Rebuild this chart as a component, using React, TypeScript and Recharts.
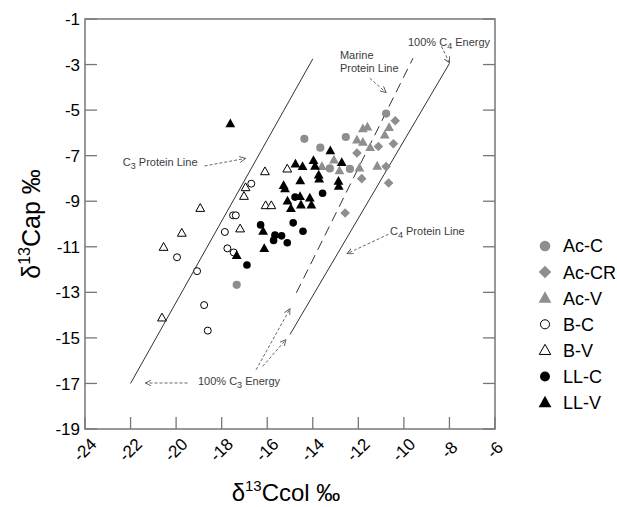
import React from 'react';
import {
  ScatterChart,
  Scatter,
  XAxis,
  YAxis,
  ReferenceLine,
  ReferenceDot,
  ReferenceArea,
  Legend,
} from 'recharts';

const FONT = "'Liberation Sans', Arial, Helvetica, sans-serif";
const GRAY = '#8e8e8e';
const FRAME = '#777777';
const NOTE = '#3c3c3c';

const xTicks = [-24, -22, -20, -18, -16, -14, -12, -10, -8, -6];
const yTicks = [-19, -17, -15, -13, -11, -9, -7, -5, -3, -1];

type P = { x: number; y: number };
const pts = (a: number[][]): P[] => a.map(([x, y]) => ({ x, y }));

const acC = pts([
  [-14.37, -6.26], [-13.67, -6.65], [-12.55, -6.18], [-10.78, -5.15],
  [-13.25, -7.56], [-12.37, -7.58], [-17.34, -12.67],
]);
const acCR = pts([
  [-10.38, -5.47], [-10.46, -6.48], [-11.12, -6.6], [-12.06, -6.88],
  [-11.85, -8.01], [-10.67, -8.2], [-12.58, -9.52], [-10.78, -7.48],
]);
const acV = pts([
  [-11.8, -5.82], [-11.6, -5.74], [-10.65, -5.76], [-10.84, -6.09],
  [-12.06, -6.31], [-11.8, -6.41], [-11.48, -6.64], [-13.07, -7.19],
  [-12.83, -7.66], [-11.95, -7.54], [-11.17, -7.46], [-13.6, -7.48],
]);
const bC = pts([
  [-16.7, -8.23], [-17.5, -9.62], [-17.38, -9.62], [-17.86, -10.35],
  [-17.75, -11.07], [-17.47, -11.25], [-19.96, -11.46], [-19.08, -12.07],
  [-18.77, -13.56], [-18.61, -14.68],
]);
const bV = pts([
  [-16.1, -7.7], [-15.12, -7.58], [-16.95, -8.4], [-17.02, -8.78],
  [-16.07, -9.19], [-15.82, -9.19], [-17.19, -10.21], [-18.94, -9.31],
  [-19.75, -10.4], [-20.55, -11.02], [-20.62, -14.12],
]);
const llC = pts([
  [-16.29, -10.04], [-15.66, -10.49], [-15.37, -10.52], [-15.72, -10.72],
  [-15.12, -10.82], [-14.86, -9.95], [-14.43, -10.32], [-13.57, -8.65],
  [-14.78, -8.82], [-16.89, -11.8],
]);
const llV = pts([
  [-17.62, -5.6], [-13.23, -6.78], [-12.73, -7.3], [-14.76, -7.37],
  [-14.45, -7.48], [-13.97, -7.21], [-13.9, -7.46], [-13.74, -7.85],
  [-13.72, -8.02], [-12.87, -8.12], [-12.86, -8.34], [-14.55, -8.1],
  [-15.28, -8.31], [-15.22, -8.45], [-15.11, -8.99], [-14.96, -9.32],
  [-14.56, -8.79], [-14.52, -9.16], [-14.13, -8.86], [-14.06, -9.17],
  [-16.18, -10.32], [-16.13, -11.08], [-17.34, -11.38],
]);

const c3Line = pts([[-22, -17], [-14, -2.75]]);
const c4Line = pts([[-15, -14.85], [-8, -2.95]]);
const marineLine = pts([[-14.72, -13.02], [-9.6, -2.72]]);

// dashed annotation arrows [from, to]
const arrows = [
  pts([[-11.5, -3.6], [-10.78, -4.23]]),
  pts([[-8.35, -2.2], [-8.0, -2.93]]),
  pts([[-18.75, -7.45], [-16.95, -7.12]]),
  pts([[-10.68, -10.45], [-12.49, -11.3]]),
  pts([[-19.5, -16.98], [-21.35, -16.98]]),
  pts([[-16.49, -16.4], [-15.0, -13.72]]),
  pts([[-16.2, -16.25], [-15.18, -15.08]]),
];

type Note = { x: number; y: number; text: string; sub?: string; tail?: string };
const notes: Note[] = [
  { x: -12.81, y: -2.76, text: 'Marine' },
  { x: -12.81, y: -3.33, text: 'Protein Line' },
  { x: -9.82, y: -2.19, text: '100% C', sub: '4', tail: ' Energy' },
  { x: -22.34, y: -7.45, text: 'C', sub: '3', tail: ' Protein Line' },
  { x: -10.61, y: -10.48, text: 'C', sub: '4', tail: ' Protein Line' },
  { x: -19.04, y: -17.07, text: '100% C', sub: '3', tail: ' Energy' },
];

type Kind = 'gc' | 'gd' | 'gt' | 'oc' | 'ot' | 'bc' | 'bt';

const series: { name: string; data: P[]; kind: Kind }[] = [
  { name: 'Ac-C', data: acC, kind: 'gc' },
  { name: 'Ac-CR', data: acCR, kind: 'gd' },
  { name: 'Ac-V', data: acV, kind: 'gt' },
  { name: 'B-C', data: bC, kind: 'oc' },
  { name: 'B-V', data: bV, kind: 'ot' },
  { name: 'LL-C', data: llC, kind: 'bc' },
  { name: 'LL-V', data: llV, kind: 'bt' },
];

function marker(kind: Kind, cx: number, cy: number, s: number, key?: string) {
  const triPts = (w: number, h: number) =>
    `${cx},${cy - h * 0.6} ${cx - w / 2},${cy + h * 0.4} ${cx + w / 2},${cy + h * 0.4}`;
  switch (kind) {
    case 'gc':
      return <circle key={key} cx={cx} cy={cy} r={4.1 * s} fill={GRAY} />;
    case 'gd': {
      const d = 4.8 * s;
      return (
        <polygon key={key} points={`${cx},${cy - d} ${cx + d},${cy} ${cx},${cy + d} ${cx - d},${cy}`} fill={GRAY} />
      );
    }
    case 'gt':
      return <polygon key={key} points={triPts(9.8 * s, 8.8 * s)} fill={GRAY} />;
    case 'oc':
      return <circle key={key} cx={cx} cy={cy} r={3.5 * s} fill="#fff" stroke="#000" strokeWidth={1} />;
    case 'ot':
      return <polygon key={key} points={triPts(8.8 * s, 7.8 * s)} fill="#fff" stroke="#000" strokeWidth={1} />;
    case 'bc':
      return <circle key={key} cx={cx} cy={cy} r={3.8 * s} fill="#000" />;
    case 'bt':
    default:
      return <polygon key={key} points={triPts(9.8 * s, 8.8 * s)} fill="#000" />;
  }
}

const XTick = (props: any) => {
  const { x, y, payload } = props;
  const ty = y + 21;
  return (
    <g>
      <line x1={x} y1={y} x2={x} y2={y - 12} stroke={FRAME} strokeWidth={1.3} />
      <text
        x={x}
        y={ty}
        transform={`rotate(-45 ${x} ${ty})`}
        textAnchor="middle"
        dominantBaseline="central"
        fontSize={17}
        fontFamily={FONT}
        fill="#000"
      >
        {payload.value}
      </text>
    </g>
  );
};

const PLOT_W = 410;
const YTick = (props: any) => {
  const { x, y, payload } = props;
  return (
    <g>
      <line x1={x} y1={y} x2={x + 12} y2={y} stroke={FRAME} strokeWidth={1.3} />
      <line x1={x + PLOT_W - 12} y1={y} x2={x + PLOT_W} y2={y} stroke={FRAME} strokeWidth={1.3} />
      <text x={x - 5} y={y} dy="0.36em" textAnchor="end" fontSize={17} fontFamily={FONT} fill="#000">
        {payload.value}
      </text>
    </g>
  );
};

const XLabel = (props: any) => {
  const vb = props.viewBox || { x: 85, y: 429, width: 410 };
  const cx = vb.x + vb.width / 2 - 4;
  const by = vb.y + 72;
  return (
    <text x={cx} y={by} textAnchor="middle" fontSize={24} fontFamily={FONT} fill="#000">
      δ<tspan dy={-10} fontSize={15}>13</tspan>
      <tspan dy={10}>Ccol ‰</tspan>
    </text>
  );
};

const YLabel = (props: any) => {
  const vb = props.viewBox || { x: 0, y: 19, height: 410 };
  const bx = 40;
  const cy = vb.y + vb.height / 2;
  return (
    <text
      x={bx}
      y={cy}
      transform={`rotate(-90 ${bx} ${cy})`}
      textAnchor="middle"
      fontSize={25}
      fontFamily={FONT}
      fill="#000"
    >
      δ<tspan dy={-10} fontSize={16}>13</tspan>
      <tspan dy={10}>Cap ‰</tspan>
    </text>
  );
};

const LegendBox = () => (
  <svg width={82} height={190} style={{ display: 'block' }}>
    {series.map((s, i) => {
      const cy = 13 + i * 26.1;
      return (
        <g key={s.name}>
          {marker(s.kind, 10, cy, 1.3)}
          <text x={28} y={cy} dy="0.36em" fontSize={18} fontFamily={FONT} fill="#000">
            {s.name}
          </text>
        </g>
      );
    })}
  </svg>
);

const noteShape = (n: Note) => (p: any) => (
  <text x={p.cx} y={p.cy} fontSize={11} fontFamily={FONT} fill={NOTE}>
    {n.text}
    {n.sub ? (
      <tspan dy={3} fontSize={9}>
        {n.sub}
      </tspan>
    ) : null}
    {n.tail ? <tspan dy={n.sub ? -3 : 0}>{n.tail}</tspan> : null}
  </text>
);

const arrowShape = (p: any) => (
  <line
    x1={p.x1}
    y1={p.y1}
    x2={p.x2}
    y2={p.y2}
    stroke="#555"
    strokeWidth={0.9}
    strokeDasharray="3 2"
    markerEnd="url(#arrowHead)"
  />
);

export default function App() {
  return (
    <div style={{ position: 'absolute', left: 0, top: 0, width: 617, height: 507, background: '#fff' }}>
      <svg width={0} height={0} style={{ position: 'absolute' }}>
        <defs>
          <marker
            id="arrowHead"
            markerWidth={8}
            markerHeight={8}
            refX={6}
            refY={3}
            orient="auto"
            markerUnits="userSpaceOnUse"
          >
            <path d="M0,0 L6,3 L0,6" fill="none" stroke="#555" strokeWidth={0.9} />
          </marker>
        </defs>
      </svg>
      <ScatterChart width={617} height={507} margin={{ top: 19, right: 122, bottom: 0, left: 0 }}>
        <XAxis
          type="number"
          dataKey="x"
          domain={[-24, -6]}
          ticks={xTicks}
          interval={0}
          axisLine={false}
          tickLine={false}
          tickSize={0}
          tickMargin={0}
          height={78}
          tick={<XTick />}
          label={XLabel}
        />
        <YAxis
          type="number"
          dataKey="y"
          domain={[-19, -1]}
          ticks={yTicks}
          interval={0}
          axisLine={false}
          tickLine={false}
          tickSize={0}
          tickMargin={0}
          width={85}
          tick={<YTick />}
          label={YLabel}
        />
        <ReferenceArea
          x1={-24}
          x2={-6}
          y1={-19}
          y2={-1}
          fill="none"
          fillOpacity={0}
          stroke={FRAME}
          strokeWidth={1.5}
        />
        <ReferenceLine segment={c3Line} stroke="#333" strokeWidth={1} />
        <ReferenceLine segment={c4Line} stroke="#333" strokeWidth={1} />
        <ReferenceLine segment={marineLine} stroke="#333" strokeWidth={1} strokeDasharray="10 6" />
        {arrows.map((a, i) => (
          <ReferenceLine key={'a' + i} segment={a} shape={arrowShape} />
        ))}
        {notes.map((n, i) => (
          <ReferenceDot key={'n' + i} x={n.x} y={n.y} r={0} shape={noteShape(n)} />
        ))}
        {series.map((s) => (
          <Scatter
            key={s.name}
            name={s.name}
            data={s.data}
            isAnimationActive={false}
            shape={(p: any) => marker(s.kind, p.cx, p.cy, 1)}
          />
        ))}
        <Legend
          layout="vertical"
          align="center"
          verticalAlign="middle"
          content={<LegendBox />}
          wrapperStyle={{ position: 'absolute', left: 535, top: 233, width: 82, height: 190 }}
        />
      </ScatterChart>
    </div>
  );
}
